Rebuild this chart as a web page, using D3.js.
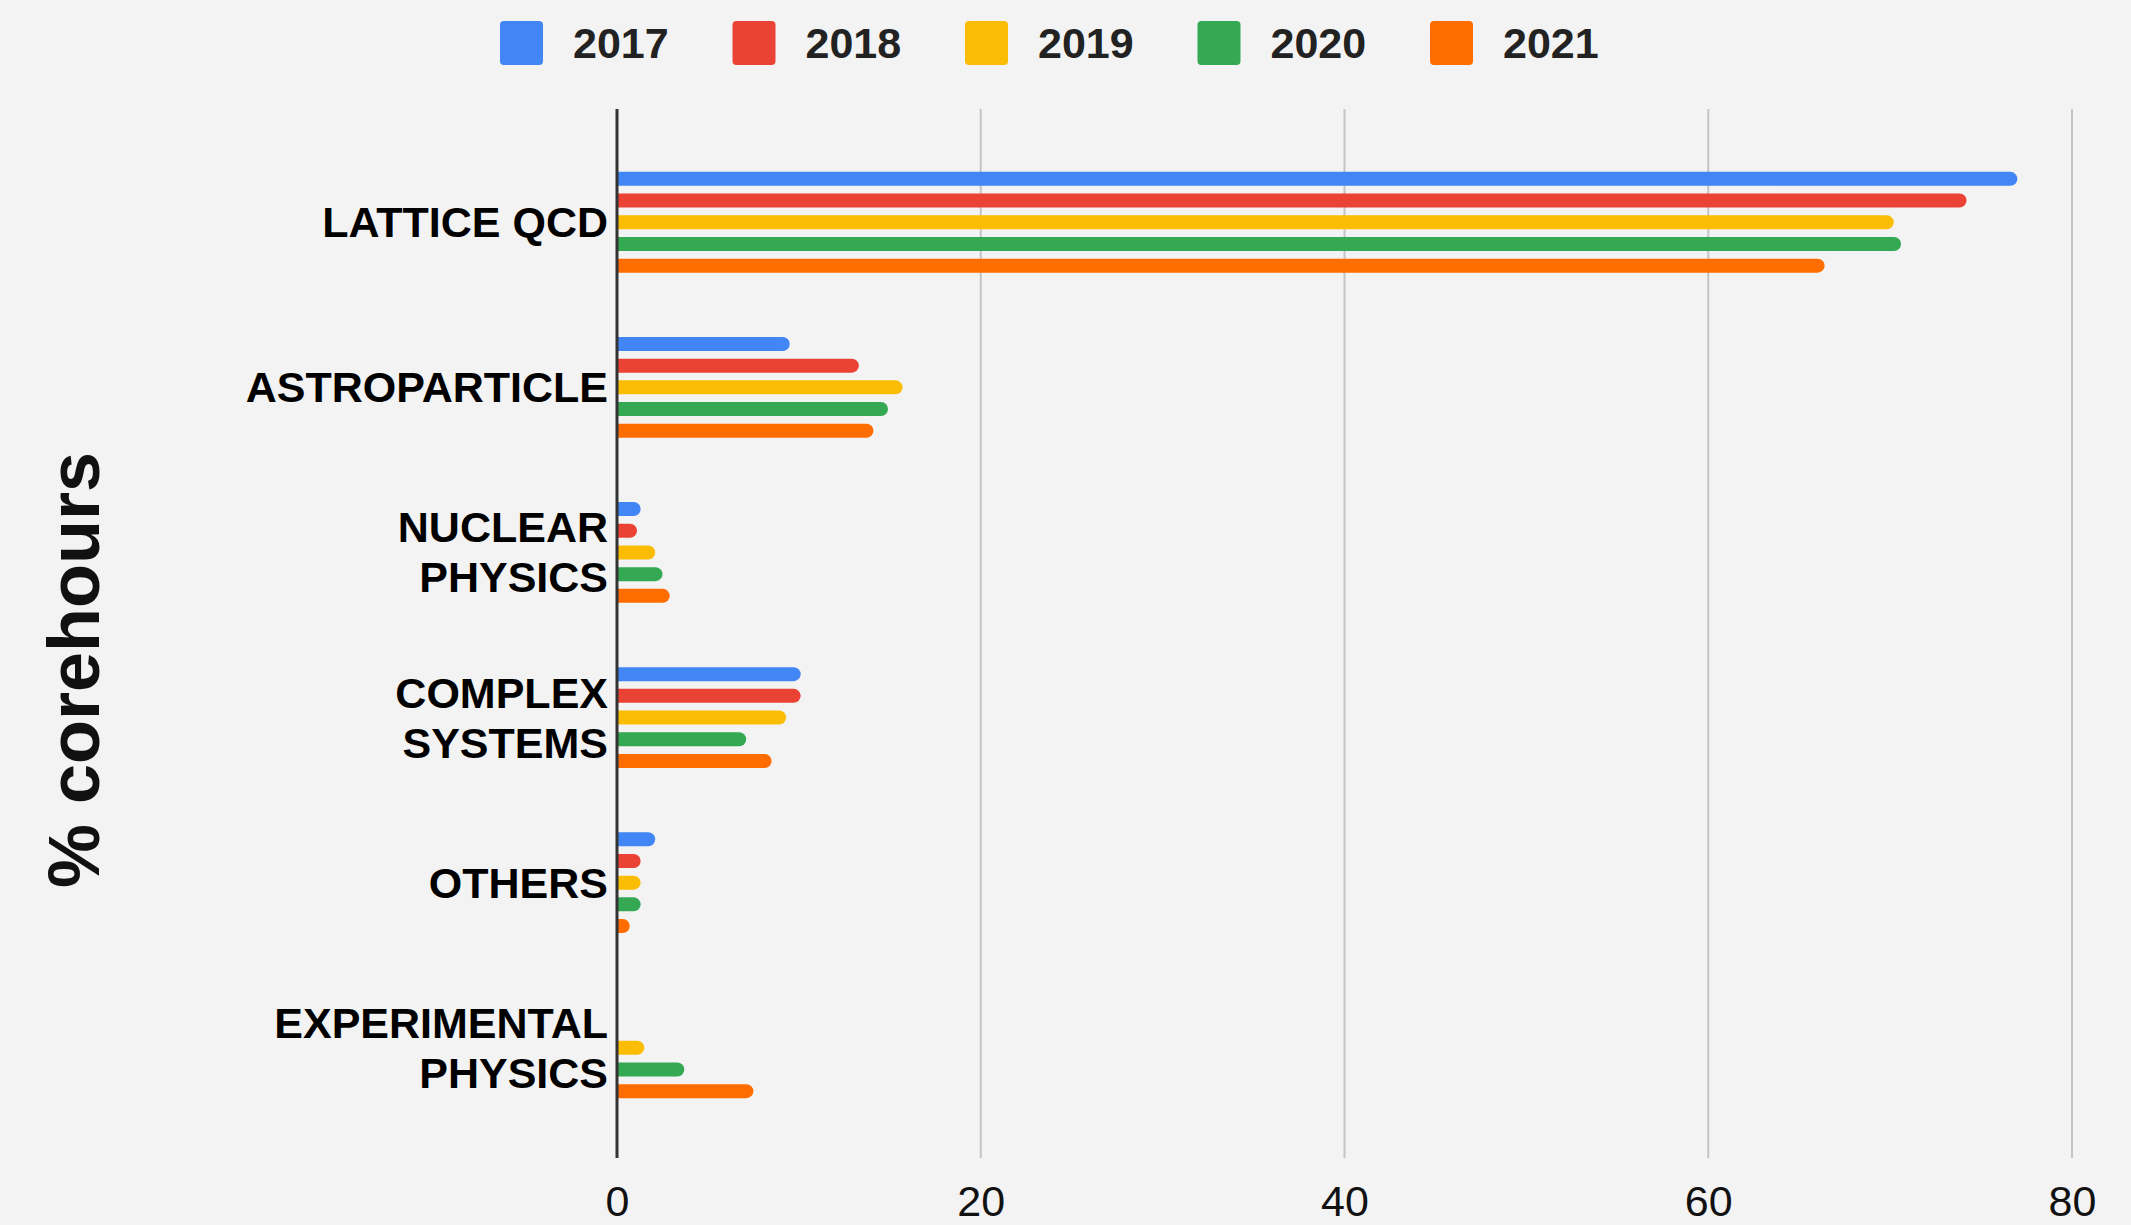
<!DOCTYPE html>
<html>
<head>
<meta charset="utf-8">
<script src="https://cdn.jsdelivr.net/npm/d3@7"></script>
<style>
  html, body { margin: 0; padding: 0; background: #f3f3f3; }
  svg { display: block; }
  text { font-family: "Liberation Sans", Arial, sans-serif; }
</style>
</head>
<body>
<svg id="chart" width="2131" height="1225"></svg>
<script>
// Share of core-hours per research area, by year
const categories = [
  ["LATTICE QCD"],
  ["ASTROPARTICLE"],
  ["NUCLEAR", "PHYSICS"],
  ["COMPLEX", "SYSTEMS"],
  ["OTHERS"],
  ["EXPERIMENTAL", "PHYSICS"]
];
const years = ["2017", "2018", "2019", "2020", "2021"];
const colors = ["#4285F4", "#EA4335", "#FBBC04", "#34A853", "#FF6D01"];

// one array per year, in category order
const values2017 = [77.0, 9.5, 1.3, 10.1, 2.1, 0];
const values2018 = [74.2, 13.3, 1.1, 10.1, 1.3, 0];
const values2019 = [70.2, 15.7, 2.1, 9.3, 1.3, 1.5];
const values2020 = [70.6, 14.9, 2.5, 7.1, 1.3, 3.7];
const values2021 = [66.4, 14.1, 2.9, 8.5, 0.7, 7.5];
const seriesValues = [values2017, values2018, values2019, values2020, values2021];

const xTicks = [0, 20, 40, 60, 80];
const yTitle = "% corehours";

const svg = d3.select("#chart");
svg.append("rect").attr("width", 2131).attr("height", 1225).attr("fill", "#f3f3f3");

const plotTop = 109, plotBottom = 1158;
const x = d3.scaleLinear().domain([0, 80]).range([617, 2072]);
const catKeys = categories.map(c => c.join(" "));
const y = d3.scalePoint().domain(catKeys).range([110, 1160]).padding(0.68);
const inner = d3.scaleBand().domain(years).range([-54.25, 54.25])
  .paddingInner(0.355).paddingOuter(0.1775);

// vertical grid lines
const grid = svg.append("g");
grid.selectAll("line").data(xTicks.filter(t => t !== 0)).join("line")
  .attr("x1", d => x(d)).attr("x2", d => x(d))
  .attr("y1", plotTop).attr("y2", plotBottom)
  .attr("stroke", "#c4c4c4").attr("stroke-width", 2);

// bars with a rounded right end
const bh = inner.bandwidth();
function barPath(v, yTop) {
  const x0 = x(0), x1 = x(v);
  const r = Math.min(bh / 2, x1 - x0);
  return `M${x0},${yTop}H${x1 - r}A${r},${bh / 2} 0 0 1 ${x1 - r},${yTop + bh}H${x0}Z`;
}
const barData = [];
years.forEach((yr, si) => {
  catKeys.forEach((c, ci) => {
    const v = seriesValues[si][ci];
    if (v > 0) barData.push({ yr, c, v, color: colors[si] });
  });
});
svg.append("g").selectAll("path").data(barData).join("path")
  .attr("d", d => barPath(d.v, y(d.c) + inner(d.yr)))
  .attr("fill", d => d.color);

// zero baseline
svg.append("line")
  .attr("x1", x(0)).attr("x2", x(0))
  .attr("y1", plotTop).attr("y2", plotBottom)
  .attr("stroke", "#333").attr("stroke-width", 3);

// x axis tick labels
const xAxis = d3.axisBottom(x).tickValues(xTicks).tickSize(0).tickPadding(0)
  .tickFormat(d3.format("d"));
const xg = svg.append("g").attr("transform", `translate(0,${1185})`).call(xAxis);
xg.select(".domain").remove();
xg.selectAll("text")
  .attr("font-size", 43).attr("fill", "#111").attr("dy", "0.72em")
  .style("font-family", "'Liberation Sans', Arial, sans-serif");

// category labels (one or two lines)
const lineGap = 50;
const labels = svg.append("g");
categories.forEach((lines, i) => {
  const cy = y(catKeys[i]);
  const t = labels.append("text")
    .attr("text-anchor", "end")
    .attr("font-size", 43).attr("font-weight", "bold").attr("fill", "#000");
  lines.forEach((ln, j) => {
    const off = (j - (lines.length - 1) / 2) * lineGap;
    t.append("tspan").attr("x", 608).attr("y", cy + off + 15).text(ln);
  });
});

// y axis title
svg.append("text")
  .attr("transform", `translate(99,670) rotate(-90)`)
  .attr("text-anchor", "middle")
  .attr("font-size", 72).attr("font-weight", "bold").attr("fill", "#111")
  .text(yTitle);

// legend
const legend = svg.append("g");
years.forEach((yr, i) => {
  const lx = 500 + i * 232.5;
  legend.append("rect")
    .attr("x", lx).attr("y", 21).attr("width", 43).attr("height", 44)
    .attr("rx", 4).attr("fill", colors[i]);
  legend.append("text")
    .attr("x", lx + 73).attr("y", 58)
    .attr("font-size", 43).attr("font-weight", "bold").attr("fill", "#222")
    .text(yr);
});
</script>
</body>
</html>
